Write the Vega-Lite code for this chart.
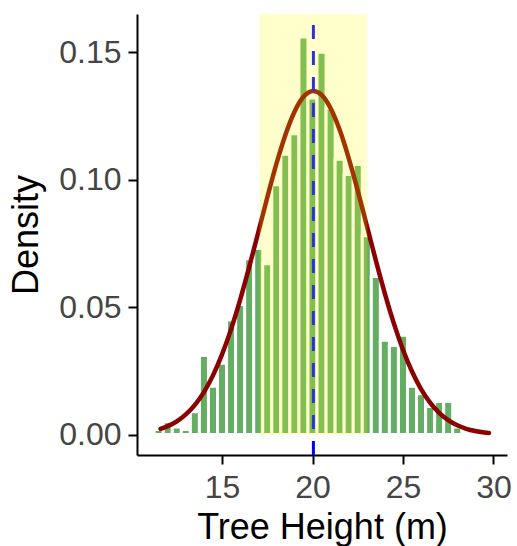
{
  "$schema": "https://vega.github.io/schema/vega-lite/v6.json",
  "width": 370,
  "height": 441,
  "autosize": {"type": "none"},
  "padding": {"left": 137, "top": 14, "right": 10, "bottom": 91},
  "background": "white",
  "config": {
    "view": {"stroke": null},
    "axis": {
      "grid": false,
      "domainColor": "black",
      "domainWidth": 2,
      "tickColor": "black",
      "tickWidth": 2,
      "tickSize": 9,
      "labelFont": "Liberation Sans",
      "labelFontSize": 32,
      "labelColor": "#454545",
      "labelPadding": 7,
      "titleFont": "Liberation Sans",
      "titleFontSize": 36,
      "titleFontWeight": "normal",
      "titleColor": "black"
    }
  },
  "datasets": {
    "bins": [
      {"bin_start": 11.25, "bin_end": 11.75, "density": 0.002},
      {"bin_start": 11.75, "bin_end": 12.25, "density": 0.005},
      {"bin_start": 12.25, "bin_end": 12.75, "density": 0.003},
      {"bin_start": 12.75, "bin_end": 13.25, "density": 0.002},
      {"bin_start": 13.25, "bin_end": 13.75, "density": 0.009},
      {"bin_start": 13.75, "bin_end": 14.25, "density": 0.031},
      {"bin_start": 14.25, "bin_end": 14.75, "density": 0.019},
      {"bin_start": 14.75, "bin_end": 15.25, "density": 0.028},
      {"bin_start": 15.25, "bin_end": 15.75, "density": 0.045},
      {"bin_start": 15.75, "bin_end": 16.25, "density": 0.051},
      {"bin_start": 16.25, "bin_end": 16.75, "density": 0.069},
      {"bin_start": 16.75, "bin_end": 17.25, "density": 0.073},
      {"bin_start": 17.25, "bin_end": 17.75, "density": 0.067},
      {"bin_start": 17.75, "bin_end": 18.25, "density": 0.098},
      {"bin_start": 18.25, "bin_end": 18.75, "density": 0.110},
      {"bin_start": 18.75, "bin_end": 19.25, "density": 0.118},
      {"bin_start": 19.25, "bin_end": 19.75, "density": 0.156},
      {"bin_start": 19.75, "bin_end": 20.25, "density": 0.132},
      {"bin_start": 20.25, "bin_end": 20.75, "density": 0.150},
      {"bin_start": 20.75, "bin_end": 21.25, "density": 0.128},
      {"bin_start": 21.25, "bin_end": 21.75, "density": 0.108},
      {"bin_start": 21.75, "bin_end": 22.25, "density": 0.102},
      {"bin_start": 22.25, "bin_end": 22.75, "density": 0.106},
      {"bin_start": 22.75, "bin_end": 23.25, "density": 0.078},
      {"bin_start": 23.25, "bin_end": 23.75, "density": 0.062},
      {"bin_start": 23.75, "bin_end": 24.25, "density": 0.037},
      {"bin_start": 24.25, "bin_end": 24.75, "density": 0.035},
      {"bin_start": 24.75, "bin_end": 25.25, "density": 0.039},
      {"bin_start": 25.25, "bin_end": 25.75, "density": 0.019},
      {"bin_start": 25.75, "bin_end": 26.25, "density": 0.016},
      {"bin_start": 26.25, "bin_end": 26.75, "density": 0.011},
      {"bin_start": 26.75, "bin_end": 27.25, "density": 0.013},
      {"bin_start": 27.25, "bin_end": 27.75, "density": 0.013},
      {"bin_start": 27.75, "bin_end": 28.25, "density": 0.003}
    ],
    "curve": [
      {"x": 11.6, "density": 0.00229},
      {"x": 12.0, "density": 0.00334},
      {"x": 12.5, "density": 0.00521},
      {"x": 13.0, "density": 0.00791},
      {"x": 13.5, "density": 0.01165},
      {"x": 14.0, "density": 0.01669},
      {"x": 14.5, "density": 0.02324},
      {"x": 15.0, "density": 0.03145},
      {"x": 15.5, "density": 0.04137},
      {"x": 16.0, "density": 0.05287},
      {"x": 16.5, "density": 0.06567},
      {"x": 17.0, "density": 0.07929},
      {"x": 17.5, "density": 0.09301},
      {"x": 18.0, "density": 0.10606},
      {"x": 18.5, "density": 0.11755},
      {"x": 19.0, "density": 0.12658},
      {"x": 19.5, "density": 0.13250},
      {"x": 20.0, "density": 0.13478},
      {"x": 20.05, "density": 0.1348},
      {"x": 20.5, "density": 0.13325},
      {"x": 21.0, "density": 0.12803},
      {"x": 21.5, "density": 0.11956},
      {"x": 22.0, "density": 0.10850},
      {"x": 22.5, "density": 0.09571},
      {"x": 23.0, "density": 0.08204},
      {"x": 23.5, "density": 0.06834},
      {"x": 24.0, "density": 0.05533},
      {"x": 24.5, "density": 0.04354},
      {"x": 25.0, "density": 0.03330},
      {"x": 25.5, "density": 0.02475},
      {"x": 26.0, "density": 0.01787},
      {"x": 26.5, "density": 0.01255},
      {"x": 27.0, "density": 0.00856},
      {"x": 27.5, "density": 0.00568},
      {"x": 28.0, "density": 0.00366},
      {"x": 28.5, "density": 0.00229},
      {"x": 29.0, "density": 0.00140},
      {"x": 29.5, "density": 0.00083},
      {"x": 29.75, "density": 0.00063}
    ],
    "band": [{"lo": 17.07, "hi": 23.03, "mean": 20.05}]
  },
  "layer": [
    {
      "data": {"name": "bins"},
      "mark": {"type": "bar", "fill": "#228B22", "fillOpacity": 0.7, "stroke": "white", "strokeWidth": 3},
      "encoding": {
        "x": {
          "field": "bin_start", "type": "quantitative",
          "scale": {"domain": [10.3, 30.75], "nice": false, "zero": false},
          "axis": {"values": [15, 20, 25, 30], "titleY": 83, "titleBaseline": "alphabetic", "labelPadding": 8},
          "title": "Tree Height (m)"
        },
        "x2": {"field": "bin_end"},
        "y": {
          "field": "density", "type": "quantitative",
          "scale": {"domain": [-0.008, 0.165], "nice": false, "zero": false},
          "axis": {"values": [0, 0.05, 0.1, 0.15], "format": ".2f", "titleX": -100, "titleY": 220.5, "titleAngle": 270, "titleBaseline": "alphabetic", "titleAlign": "center"},
          "title": "Density"
        },
        "y2": {"datum": 0}
      }
    },
    {
      "data": {"name": "curve"},
      "mark": {"type": "line", "stroke": "#8B0000", "strokeWidth": 4.5, "interpolate": "monotone", "strokeCap": "round"},
      "encoding": {
        "x": {"field": "x", "type": "quantitative", "title": "Tree Height (m)"},
        "y": {"field": "density", "type": "quantitative", "title": "Density"}
      }
    },
    {
      "data": {"name": "band"},
      "mark": {"type": "rule", "stroke": "#0000FF", "strokeWidth": 3, "strokeDash": [14, 12]},
      "encoding": {
        "x": {"field": "mean", "type": "quantitative", "title": "Tree Height (m)"},
        "y": {"datum": -0.008, "type": "quantitative", "title": "Density"},
        "y2": {"datum": 0.165}
      }
    },
    {
      "data": {"name": "band"},
      "mark": {"type": "rect", "fill": "#FFFF00", "opacity": 0.2},
      "encoding": {
        "x": {"field": "lo", "type": "quantitative", "title": "Tree Height (m)"},
        "x2": {"field": "hi"},
        "y": {"datum": 0, "type": "quantitative", "title": "Density"},
        "y2": {"datum": 0.165}
      }
    }
  ]
}
